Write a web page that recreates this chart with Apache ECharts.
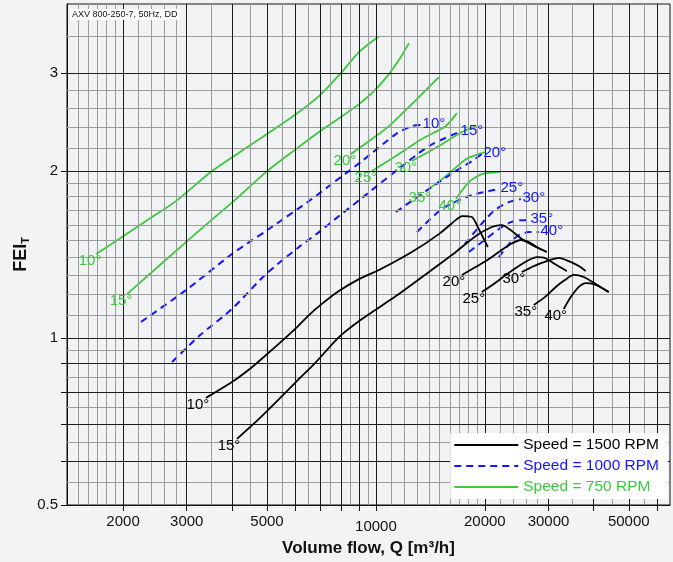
<!DOCTYPE html>
<html><head><meta charset="utf-8">
<script src="https://cdn.jsdelivr.net/npm/echarts@6/dist/echarts.min.js"></script>
<style>html,body{margin:0;padding:0;background:#f2f3f5;}#c{width:673px;height:562px;}</style>
</head><body><div id="c"></div>
<script>
// ---- axis values ----
const xLabelValues = [2000, 3000, 5000, 20000, 30000, 50000];
const xLabelShifted = [10000];
const xTickValues = [2000,3000,4000,5000,6000,7000,8000,9000,10000,20000,30000,40000,50000,60000];
const yLabelValues = [0.5, 1, 2, 3];
const yTickValues = [0.5, 0.6, 0.7, 0.8, 0.9, 1, 2, 3];
const gridMajorX = [2000,3000,4000,5000,6000,7000,8000,9000,10000,20000,30000,40000,50000,60000];
const gridMinorX = [1500,1600,1700,1800,1900,2200,2400,2600,2800,3500,4500,5500,6500,7500,8500,9500,
  11000,12000,13000,14000,15000,16000,17000,18000,19000,22000,24000,26000,28000,35000,45000,55000];
const gridMajorY = [0.6, 0.7, 0.8, 0.9, 1, 2, 3];
const gridMinorY = [0.55,0.65,0.75,0.85,0.95,1.1,1.2,1.3,1.4,1.5,1.6,1.7,1.8,1.9,2.2,2.4,2.6,2.8,3.5];

// ---- 1500 RPM (black) ----
const b10 = [[3390,0.780],[4000,0.833],[4515,0.883],[4970,0.932],[5465,0.984],[6010,1.042],[6530,1.100],[7090,1.152],[7900,1.215],[8975,1.277],[10190,1.326],[12570,1.429],[14930,1.539],[16740,1.638],[17290,1.659],[18420,1.652],[19250,1.572],[19870,1.508],[20390,1.459]];
const b15 = [[4130,0.658],[4750,0.715],[5395,0.776],[6010,0.833],[6830,0.905],[7905,1.004],[9150,1.082],[11360,1.190],[14010,1.315],[16630,1.429],[18890,1.527],[20910,1.585],[22290,1.598],[23760,1.559],[25310,1.508],[27670,1.459],[29680,1.429]];
const b20 = [[17290,1.299],[18650,1.337],[20130,1.376],[21870,1.429],[23600,1.477],[25150,1.502],[26470,1.489],[27850,1.459],[29680,1.429]];
const b25 = [[19620,1.210],[21180,1.251],[22860,1.299],[24830,1.348],[26470,1.382],[27850,1.399],[29310,1.394],[31220,1.359],[33700,1.320]];
const b30 = [[25310,1.315],[27320,1.348],[29680,1.376],[32030,1.394],[34120,1.376],[36380,1.348],[38030,1.320]];
const b35 = [[27320,1.147],[29310,1.185],[31420,1.236],[33290,1.272],[35240,1.299],[37550,1.288],[40520,1.251],[44020,1.210]];
const b40 = [[33060,1.128],[34570,1.185],[36380,1.236],[38030,1.256],[40020,1.251],[42110,1.231],[44020,1.210]];

// ---- 1000 RPM (blue dashed) ----
const u10 = [[2243,1.069],[2987,1.220],[4001,1.417],[4968,1.559],[6530,1.765],[7418,1.879],[9149,2.084],[11357,2.331],[12572,2.410],[13314,2.420]];
const u15 = [[2733,0.905],[3243,1.008],[4001,1.128],[4968,1.304],[6128,1.459],[6959,1.552],[7905,1.659],[9149,1.788],[11357,2.000],[14011,2.218],[16960,2.351]];
const u20 = [[11357,1.687],[14011,1.856],[16634,2.000],[18417,2.084],[19624,2.146]];
const u25 = [[12983,1.552],[15217,1.708],[18070,1.803],[20520,1.840],[21870,1.856]];
const u30 = [[17620,1.477],[19250,1.585],[21180,1.694],[23300,1.758],[25150,1.780]];
const u35 = [[18070,1.429],[20130,1.508],[21870,1.572],[23600,1.618],[25150,1.631],[26470,1.631]];
const u40 = [[21870,1.399],[23600,1.489],[24830,1.533],[26470,1.552],[28200,1.552]];

// ---- 750 RPM (green) ----
const g10 = [[1685,1.417],[1950,1.508],[2405,1.652],[2802,1.765],[3524,2.000],[4459,2.218],[5861,2.502],[6959,2.729],[8005,3.003],[8975,3.276],[10192,3.500]];
const g15 = [[2052,1.200],[2405,1.315],[2987,1.489],[3457,1.618],[4105,1.780],[4968,1.991],[6012,2.190],[6959,2.351],[8005,2.502],[8975,2.640],[9874,2.786],[10862,2.990],[11575,3.169],[12340,3.401]];
const g20 = [[8530,2.146],[9749,2.284],[10862,2.410],[12983,2.696],[14927,2.953]];
const g25 = [[9749,2.000],[11357,2.128],[13397,2.284],[15610,2.410],[16743,2.543]];
const g30 = [[12572,2.084],[14927,2.218],[17285,2.351],[18887,2.410]];
const g35 = [[13744,1.840],[15610,1.958],[17730,2.101],[19250,2.146],[20130,2.163]];
const g40 = [[16634,1.780],[18070,1.910],[19624,1.975],[22140,1.991]];

const angles = ['10°','15°','20°','25°','30°','35°','40°'];
const speedNames = ['Speed = 1500 RPM','Speed = 1000 RPM','Speed = 750 RPM'];
const black = [b10,b15,b20,b25,b30,b35,b40];
const blue = [u10,u15,u20,u25,u30,u35,u40];
const green = [g10,g15,g20,g25,g30,g35,g40];

const FONT = 'Liberation Sans, Arial, sans-serif';
const C_BLACK = '#000000', C_BLUE = '#1414ff', C_GREEN = '#3cc83c';

function gridSeries(xs, ys, color, z) {
  return {
    type: 'line', data: [], silent: true, z: z, animation: false,
    markLine: {
      silent: true, symbol: ['none', 'none'], animation: false,
      label: { show: false },
      lineStyle: { color: color, width: 1, type: 'solid' },
      emphasis: { disabled: true },
      data: xs.map(v => ({ xAxis: v })).concat(ys.map(v => ({ yAxis: v })))
    }
  };
}

function curve(name, color, dashed, angle, pts, atEnd, offset) {
  const anchor = atEnd ? pts[pts.length - 1] : pts[0];
  return {
    name: name, type: 'line', data: pts, showSymbol: false, symbol: 'none',
    smooth: 0.25,
    z: dashed ? 4 : (color === C_BLACK ? 5 : 3), animation: false,
    lineStyle: { color: color, width: dashed ? 2 : 1.8, type: dashed ? [7, 5] : 'solid' },
    itemStyle: { color: color },
    emphasis: { disabled: true },
    markPoint: {
      symbol: 'circle', symbolSize: 0, silent: true, animation: false,
      label: { show: true, position: 'inside', formatter: angle, offset: offset,
               color: color, fontSize: 15, fontFamily: FONT },
      data: [{ coord: anchor }]
    }
  };
}

const series = [
  gridSeries(gridMinorX, gridMinorY, '#9c9c9c', 1),
  gridSeries(gridMajorX, gridMajorY, '#1a1a1a', 2)
];
green.forEach((d, i) => series.push(curve(speedNames[2], C_GREEN, false, angles[i], d, false, [-6, 7])));
blue.forEach((d, i) => series.push(curve(speedNames[1], C_BLUE, true, angles[i], d, true, [13, -1])));
black.forEach((d, i) => series.push(curve(speedNames[0], C_BLACK, false, angles[i], d, false, [-8, 7])));

const plain = v => String(Math.round(v * 1000) / 1000);

const chart = echarts.init(document.getElementById('c'), null, { renderer: 'canvas' });
chart.setOption({
  backgroundColor: '#f2f3f5',
  animation: false,
  title: {
    text: 'AXV 800-250-7, 50Hz, DD', left: 70, top: 9, padding: [1, 2],
    backgroundColor: '#ffffff', z: 20,
    textStyle: { fontSize: 9, fontWeight: 'normal', color: '#111', fontFamily: FONT }
  },
  legend: {
    orient: 'vertical', right: 5, bottom: 63, padding: [4, 9, 4, 3], z: 20,
    backgroundColor: '#ffffff', itemWidth: 64, itemHeight: 12, itemGap: 5,
    itemStyle: { opacity: 0 },
    textStyle: { fontSize: 15.5, fontFamily: FONT },
    data: [
      { name: speedNames[0], textStyle: { color: C_BLACK } },
      { name: speedNames[1], textStyle: { color: C_BLUE } },
      { name: speedNames[2], textStyle: { color: C_GREEN } }
    ],
    selectedMode: false
  },
  grid: { left: 67, right: 3, top: 4, bottom: 57, show: true, backgroundColor: '#f1f2f4',
          borderColor: '#111', borderWidth: 1 },
  xAxis: [{
    type: 'log', logBase: 10, min: 1400, max: 65000,
    name: 'Volume flow, Q [m³/h]', nameLocation: 'middle', nameGap: 35, nameMoveOverlap: false,
    nameTextStyle: { fontSize: 17, fontWeight: 'bold', color: '#111', fontFamily: FONT },
    axisLine: { show: true, lineStyle: { color: '#111' } },
    axisTick: { show: true, length: 6, inside: false, customValues: xTickValues, lineStyle: { color: '#111' } },
    axisLabel: { show: true, customValues: xLabelValues, formatter: plain, margin: 9, fontSize: 15, color: '#111', fontFamily: FONT },
    splitLine: { show: false }, minorTick: { show: false }
  }, {
    type: 'log', logBase: 10, min: 1400, max: 65000, position: 'bottom',
    axisLine: { show: false }, axisTick: { show: false },
    axisLabel: { show: true, customValues: xLabelShifted, formatter: plain, margin: 14, fontSize: 15, color: '#111', fontFamily: FONT },
    splitLine: { show: false }
  }],
  yAxis: [{
    type: 'log', logBase: 10, min: 0.5, max: 4,
    name: '{a|FEI}{b|T}', nameLocation: 'middle', nameGap: 36, nameRotate: 90, nameMoveOverlap: false,
    nameTextStyle: { rich: {
      a: { fontSize: 18, fontWeight: 'bold', color: '#111', fontFamily: FONT },
      b: { fontSize: 11, fontWeight: 'bold', color: '#111', fontFamily: FONT, padding: [8, 0, 0, 0] }
    } },
    axisLine: { show: true, lineStyle: { color: '#111' } },
    axisTick: { show: true, length: 6, customValues: yTickValues, lineStyle: { color: '#111' } },
    axisLabel: { show: true, customValues: yLabelValues, formatter: plain, margin: 9, fontSize: 15, color: '#111', fontFamily: FONT },
    splitLine: { show: false }
  }],
  series: series
});
</script></body></html>
